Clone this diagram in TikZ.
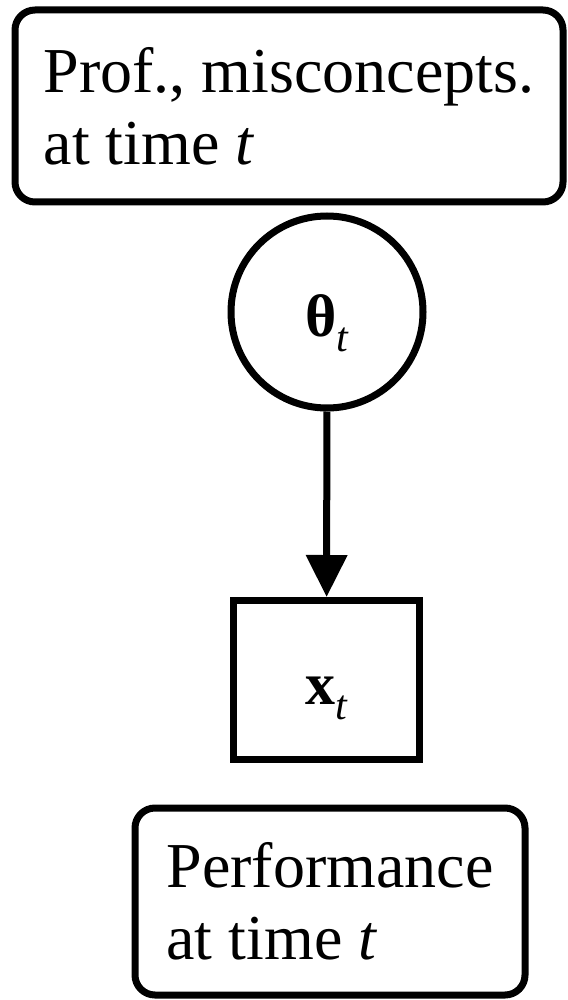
\documentclass[tikz,border=0pt]{standalone}
\usepackage{fontspec}
\setmainfont{Liberation Serif}
\usetikzlibrary{arrows.meta}
\newcommand{\tsub}{\raisebox{-15pt}{\fontsize{42}{44}\selectfont\textit{t}}}

\begin{document}
\begin{tikzpicture}[x=1pt,y=-1pt,
  textbox/.style={draw, line width=7pt, rounded corners=20pt, align=left,
    font=\fontsize{64}{72}\selectfont, inner sep=0pt},
  latent/.style={draw, circle, line width=7pt, minimum size=192pt, inner sep=0pt,
    text height=64pt, text depth=15pt, font=\fontsize{60}{62}\selectfont},
  observed/.style={draw, rectangle, line width=7pt, minimum width=186pt, minimum height=159pt,
    inner sep=0pt, text height=64pt, text depth=15pt, font=\fontsize{60}{62}\selectfont}]
\useasboundingbox (0,0) rectangle (567,1000);
\node[textbox, minimum width=548pt, minimum height=192pt] (prof) at (289,106)
  {Prof., misconcepts.\\at time \textit{t}};
\node[latent] (theta) at (327,312) {\textbf{θ}\tsub};
\node[observed] (x) at (326.5,680) {\textbf{x}\tsub};
\node[textbox, minimum width=390pt, minimum height=187pt] (perf) at (330,901.5)
  {Performance\\at time \textit{t}};
\draw[line width=7pt, -{Triangle[length=42pt,width=40pt]}] (theta) -- (x);
\end{tikzpicture}
\end{document}
